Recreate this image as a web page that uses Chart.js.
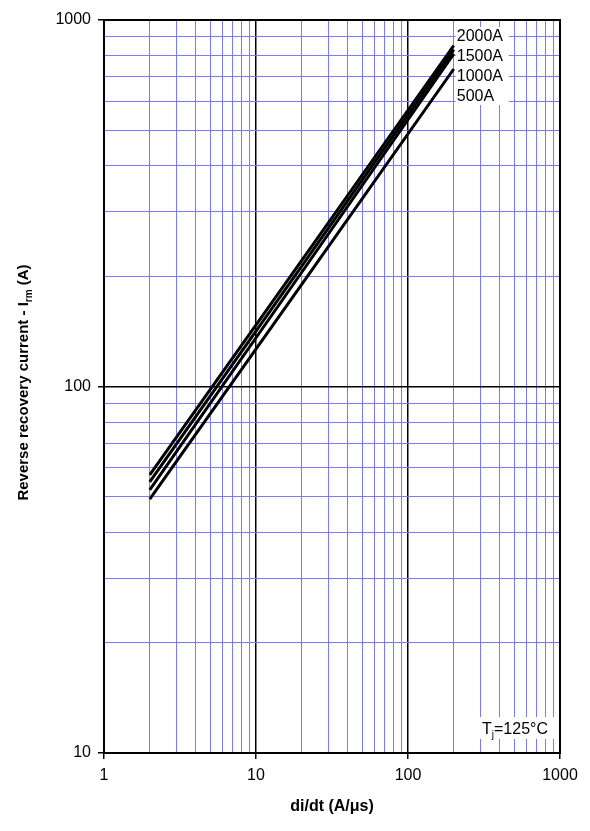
<!DOCTYPE html>
<html lang="en">
<head>
  <meta charset="UTF-8">
  <title>Reverse recovery current vs di/dt</title>
  <script src="https://cdn.jsdelivr.net/npm/chart.js"></script>
  <style>
    body { margin: 0; background: #fff; }
    canvas { display: block; }
  </style>
</head>
<body>
  <canvas id="irmChart" width="590" height="831"></canvas>
  <script>
    // di/dt values (A/us) where the curves were read
    const didt = [2, 20, 200];

    // Irm (A) per forward current
    const irm2000 = [57.4, 221, 852];
    const irm1500 = [54.9, 213, 830];
    const irm1000 = [52.2, 205, 808];
    const irm500 = [49.3, 190, 735];

    const seriesLabels = ['2000A', '1500A', '1000A', '500A'];
    const seriesValues = [irm2000, irm1500, irm1000, irm500];

    const xRange = [1, 1000];
    const yRange = [10, 1000];

    const FONT = '"Liberation Sans", Arial, sans-serif';
    const GRID_BLUE = '#7878ff';

    function isDecade(v) {
      const l = Math.log10(v);
      return Math.abs(l - Math.round(l)) < 1e-9;
    }

    // 1,2,...,9,10,20,... up to max
    function logTicks(min, max) {
      const out = [];
      for (let d = min; d < max; d *= 10) {
        for (let m = 1; m < 10; m++) out.push({ value: m * d });
      }
      out.push({ value: max });
      return out;
    }

    function axisOpts(range, fitFn) {
      return {
        type: 'logarithmic',
        min: range[0],
        max: range[1],
        afterBuildTicks: scale => { scale.ticks = logTicks(range[0], range[1]); },
        afterFit: fitFn,
        border: { display: true, color: '#000', width: 2 },
        grid: {
          color: ctx => isDecade(ctx.tick.value) ? '#000' : GRID_BLUE,
          lineWidth: ctx => isDecade(ctx.tick.value) ? 1.5 : 1,
          tickColor: ctx => isDecade(ctx.tick.value) ? '#000' : 'rgba(0,0,0,0)',
          tickLength: 6
        },
        ticks: {
          autoSkip: false,
          maxRotation: 0,
          color: '#000',
          padding: 7,
          font: { family: FONT, size: 16 },
          callback: v => isDecade(v) ? String(v) : ''
        }
      };
    }

    // frame round the plot area + y title with subscript
    const framePlugin = {
      id: 'frame',
      afterDraw(chart) {
        const { ctx, chartArea: a } = chart;
        ctx.save();
        ctx.strokeStyle = '#000';
        ctx.lineWidth = 2;
        ctx.strokeRect(a.left, a.top, a.right - a.left, a.bottom - a.top);

        // y title
        const main = 'Reverse recovery current - I';
        const sub = 'rm';
        const tail = ' (A)';
        const big = 'bold 15px ' + FONT;
        const small = 'bold 10px ' + FONT;
        ctx.font = big;
        const w1 = ctx.measureText(main).width;
        const w3 = ctx.measureText(tail).width;
        ctx.font = small;
        const w2 = ctx.measureText(sub).width;
        const total = w1 + w2 + w3;
        ctx.translate(28, (a.top + a.bottom) / 2 - 4);
        ctx.rotate(-Math.PI / 2);
        ctx.fillStyle = '#000';
        ctx.textBaseline = 'alphabetic';
        ctx.textAlign = 'left';
        let x = -total / 2;
        ctx.font = big;
        ctx.fillText(main, x, 0);
        x += w1;
        ctx.font = small;
        ctx.fillText(sub, x, 4);
        x += w2;
        ctx.font = big;
        ctx.fillText(tail, x, 0);
        ctx.restore();
      }
    };

    // series labels at the right end + Tj note
    const notesPlugin = {
      id: 'notes',
      afterDatasetsDraw(chart) {
        const { ctx, scales } = chart;
        const x0 = scales.x.getPixelForValue(didt[didt.length - 1]) + 2;
        ctx.save();
        ctx.fillStyle = '#fff';
        ctx.fillRect(x0, 27, 53, 78);
        ctx.fillStyle = '#000';
        ctx.font = '16px ' + FONT;
        ctx.textBaseline = 'middle';
        ctx.textAlign = 'left';
        seriesLabels.forEach((lbl, i) => {
          ctx.fillText(lbl, x0 + 1, 37 + i * 20);
        });

        // Tj=125°C
        ctx.fillStyle = '#fff';
        ctx.fillRect(478, 717, 76, 22);
        ctx.fillStyle = '#000';
        ctx.textBaseline = 'alphabetic';
        let tx = 482;
        ctx.font = '16px ' + FONT;
        ctx.fillText('T', tx, 734);
        tx += ctx.measureText('T').width;
        ctx.font = '10px ' + FONT;
        ctx.fillText('j', tx, 738);
        tx += ctx.measureText('j').width;
        ctx.font = '16px ' + FONT;
        ctx.fillText('=125°C', tx, 734);
        ctx.restore();
      }
    };

    new Chart(document.getElementById('irmChart'), {
      type: 'line',
      data: {
        datasets: seriesValues.map((vals, i) => ({
          label: seriesLabels[i],
          data: didt.map((x, j) => ({ x: x, y: vals[j] })),
          borderColor: '#000',
          borderWidth: 3,
          pointRadius: 0,
          fill: false,
          tension: 0
        }))
      },
      options: {
        responsive: false,
        animation: false,
        layout: { padding: { left: 0, right: 30, top: 20, bottom: 0 } },
        plugins: {
          legend: { display: false },
          tooltip: { enabled: false }
        },
        scales: {
          x: Object.assign(axisOpts(xRange, s => { s.height = 78; }), {
            title: {
              display: true,
              text: 'di/dt (A/μs)',
              color: '#000',
              font: { family: FONT, size: 16, weight: 'bold' },
              padding: { top: 0, bottom: 15 }
            }
          }),
          y: axisOpts(yRange, s => { s.width = 104; })
        }
      },
      plugins: [framePlugin, notesPlugin]
    });
  </script>
</body>
</html>
